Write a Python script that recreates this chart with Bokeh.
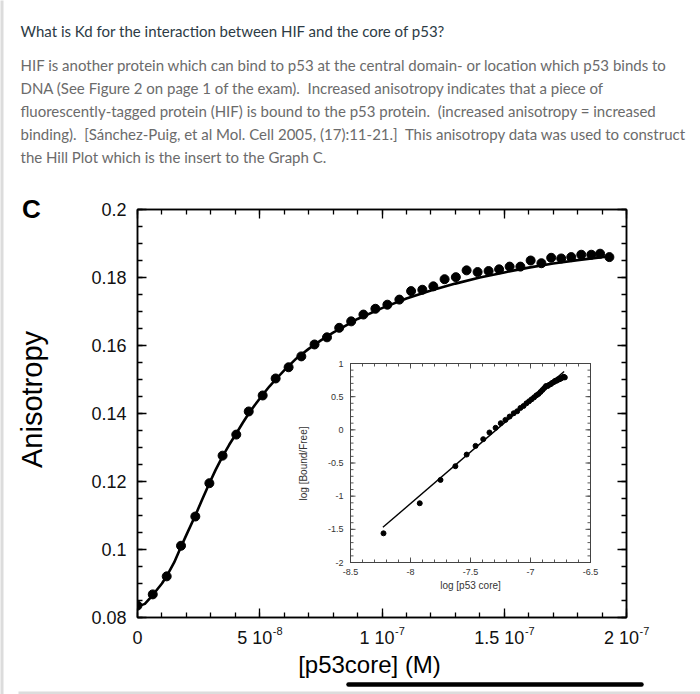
import numpy as np
from bokeh.plotting import figure
from bokeh.models import Range1d, LinearAxis, FixedTicker, CustomJSTickFormatter
from bokeh.core.properties import value
from bokeh.embed import file_html
from bokeh.resources import INLINE

# ---------------- data ----------------
# main titration: [p53core] in units of 1e-8 M, anisotropy
CONC_E8 = [0, 0.624, 1.195, 1.78, 2.365, 2.94, 3.48, 4.04, 4.55, 5.12, 5.65,
           6.18, 6.70, 7.24, 7.75, 8.25, 8.74, 9.24, 9.73, 10.22, 10.71, 11.19,
           11.65, 12.10, 12.56, 13.02, 13.46, 13.91, 14.36, 14.79, 15.22, 15.66,
           16.08, 16.52, 16.92, 17.33, 17.74, 18.15, 18.56, 18.92, 19.30]
ANISO = [0.0835, 0.0868, 0.0921, 0.1011, 0.1097, 0.1195, 0.1276, 0.1338, 0.1406,
         0.1453, 0.1503, 0.1536, 0.1568, 0.1603, 0.1624, 0.1652, 0.1671, 0.1691,
         0.1708, 0.1720, 0.1735, 0.1760, 0.1764, 0.1774, 0.1795, 0.1801, 0.1821,
         0.1816, 0.1819, 0.1824, 0.1832, 0.1832, 0.1850, 0.1842, 0.1858, 0.1856,
         0.1860, 0.1867, 0.1867, 0.1870, 0.1860]

# fitted curve
FIT_CONC_E8 = [0, 0.3, 0.624, 1.0, 1.195, 1.5, 1.78, 2.0, 2.365, 2.65, 2.94, 3.2,
               3.48, 3.75, 4.04, 4.3, 4.55, 4.8, 5.12, 5.4, 5.65, 6.0, 6.5, 7.0,
               7.5, 8.0, 8.5, 9.0, 10.0, 11.0, 12.0, 13.0, 14.0, 15.0, 16.0,
               17.0, 18.0, 19.0, 19.35]
FIT_ANISO = [0.0832, 0.0840, 0.0866, 0.0900, 0.0922, 0.0962, 0.1008, 0.1043,
             0.1100, 0.1148, 0.1195, 0.1235, 0.1274, 0.1308, 0.1341, 0.1372,
             0.1400, 0.1425, 0.1455, 0.1480, 0.1500, 0.1527, 0.1562, 0.1590,
             0.1615, 0.1638, 0.1658, 0.1678, 0.1710, 0.1738, 0.1762, 0.1782,
             0.1800, 0.1815, 0.1829, 0.1841, 0.1851, 0.1860, 0.1863]

# Hill plot (inset)
HILL_LOGX = [-8.225, -7.923, -7.75, -7.626, -7.532, -7.458, -7.394, -7.342,
             -7.291, -7.248, -7.209, -7.174, -7.140, -7.111, -7.084, -7.058,
             -7.034, -7.012, -6.991, -6.970, -6.951, -6.934, -6.917, -6.901,
             -6.885, -6.871, -6.857, -6.843, -6.830, -6.818, -6.805, -6.794,
             -6.782, -6.772, -6.761, -6.751, -6.741, -6.731, -6.723, -6.714]
HILL_LOGY = [-1.56, -1.107, -0.755, -0.548, -0.373, -0.242, -0.141, -0.04,
             0.03, 0.10, 0.15, 0.20, 0.25, 0.28, 0.33, 0.36, 0.40, 0.43, 0.46,
             0.49, 0.52, 0.54, 0.57, 0.60, 0.63, 0.66, 0.66, 0.68, 0.69, 0.71,
             0.72, 0.74, 0.74, 0.76, 0.76, 0.77, 0.78, 0.79, 0.80, 0.79]
HILL_FIT_LOGX = [-8.23, -6.72]
HILL_FIT_LOGY = [-1.47, 0.88]

# ticks and labels
X_TICKS_E8 = [0, 5, 10, 15, 20]
X_TICK_BASES = ["0", "5 10", "1 10", "1.5 10", "2 10"]
X_TICK_EXPS = ["", "-8", "-7", "-7", "-7"]
Y_TICKS = [0.08, 0.10, 0.12, 0.14, 0.16, 0.18, 0.20]
Y_TICK_LABELS = ["0.08", "0.1", "0.12", "0.14", "0.16", "0.18", "0.2"]
INSET_X_TICKS = [-8.5, -8.0, -7.5, -7.0, -6.5]
INSET_X_LABELS = ["-8.5", "-8", "-7.5", "-7", "-6.5"]
INSET_Y_TICKS = [-2.0, -1.5, -1.0, -0.5, 0.0, 0.5, 1.0]
INSET_Y_LABELS = ["-2", "-1.5", "-1", "-0.5", "0", "0.5", "1"]

NB = "\u00a0 "   # double space kept visible
TITLE = "What is Kd for the interaction between HIF and the core of p53?"
PARAGRAPH = [
    "HIF is another protein which can bind to p53 at the central domain- or location which p53 binds to",
    "DNA (See Figure 2 on page 1 of the exam)." + NB + "Increased anisotropy indicates that a piece of",
    "fluorescently-tagged protein (HIF) is bound to the p53 protein." + NB + "(increased anisotropy = increased",
    "binding)." + NB + "[S\u00e1nchez-Puig, et al Mol. Cell 2005, (17):11-21.]" + NB + "This anisotropy data was used to construct",
    "the Hill Plot which is the insert to the Graph C.",
]
PANEL_LETTER = "C"
Y_LABEL = "Anisotropy"
X_LABEL = "[p53core] (M)"
INSET_X_LABEL = "log [p53 core]"
INSET_Y_LABEL = "log [Bound/Free]"

# ---------------- layout (page pixels; figure sits at the page origin) ----------------
W, H = 700, 694
FL, FR, FT, FB = 137, 626, 209, 617          # main frame
BL, BR, BT, BB = FL, W - FR, FT, H - FB
IL, IR, IT, IB = 350, 590, 363, 562          # inset frame

AX_FONT = "Liberation Sans"
TXT_FONT = "Lato"
# Liberation Sans advance widths (em) for the tick-label characters
CW = {c: 0.556 for c in "0123456789"}
CW.update({" ": 0.278, ".": 0.278, "-": 0.333})


def text_w(s, size):
    return sum(CW[c] for c in s) * size


conc = [c * 1e-8 for c in CONC_E8]
fit_conc = [c * 1e-8 for c in FIT_CONC_E8]
x_ticks = [t * 1e-8 for t in X_TICKS_E8]

p = figure(width=W, height=H, x_range=Range1d(0, x_ticks[-1]),
           y_range=Range1d(Y_TICKS[0], Y_TICKS[-1]),
           output_backend="svg", toolbar_location=None,
           min_border_left=BL, min_border_right=BR,
           min_border_top=BT, min_border_bottom=BB)
p.xgrid.visible = False
p.ygrid.visible = False
p.outline_line_color = "black"
p.outline_line_width = 1.5
p.background_fill_color = "white"
p.border_fill_color = "white"

# helper ranges: page pixel coordinates and inset coordinates
kx = (IR - IL) / (INSET_X_TICKS[-1] - INSET_X_TICKS[0])
ky = (IB - IT) / (INSET_Y_TICKS[-1] - INSET_Y_TICKS[0])
p.extra_x_ranges = {
    "sx": Range1d(FL, FR),
    "ix": Range1d(INSET_X_TICKS[0] - (IL - FL) / kx,
                  INSET_X_TICKS[-1] + (FR - IR) / kx),
}
p.extra_y_ranges = {
    "sy": Range1d(FB, FT),
    "iy": Range1d(INSET_Y_TICKS[0] - (FB - IB) / ky,
                  INSET_Y_TICKS[-1] + (IT - FT) / ky),
}


def label_formatter(vals, labs):
    return CustomJSTickFormatter(args=dict(vals=vals, labs=labs), code="""
        let best = 0;
        for (let i = 0; i < vals.length; i++) {
            if (Math.abs(vals[i] - tick) < Math.abs(vals[best] - tick)) best = i;
        }
        return labs[best];
    """)


def style_axis(ax, show_labels):
    ax.axis_line_color = "black"
    ax.axis_line_width = 1.5
    ax.major_tick_in = 9
    ax.major_tick_out = 0
    ax.minor_tick_in = 5
    ax.minor_tick_out = 0
    ax.major_tick_line_width = 1.3
    ax.minor_tick_line_width = 1.3
    ax.major_tick_line_color = "black"
    ax.minor_tick_line_color = "black"
    ax.major_label_text_font = AX_FONT
    ax.major_label_text_font_size = "18px"
    ax.major_label_text_color = "#111111"
    if not show_labels:
        ax.formatter = CustomJSTickFormatter(code="return '';")


x_minor = list(np.arange(0, 21) * 1e-8)
y_minor = list(np.round(np.arange(0.08, 0.2001, 0.005), 4))
xticker = FixedTicker(ticks=x_ticks, minor_ticks=x_minor)
yticker = FixedTicker(ticks=Y_TICKS, minor_ticks=y_minor)

xa = p.xaxis[0]
xa.ticker = xticker
style_axis(xa, False)

ya = p.yaxis[0]
ya.ticker = yticker
ya.formatter = label_formatter(Y_TICKS, Y_TICK_LABELS)
style_axis(ya, True)
ya.major_label_standoff = 11

top = LinearAxis(ticker=xticker)
style_axis(top, False)
p.add_layout(top, "above")
right = LinearAxis(ticker=yticker)
style_axis(right, False)
p.add_layout(right, "right")


def over(r):
    """Draw a renderer on the overlay level so it is not clipped to the frame."""
    r.level = "overlay"
    return r


# x tick labels "a 10^b" with a raised exponent
BASE_SIZE, EXP_SIZE = 18, 11
for t, base, ex in zip(x_ticks, X_TICK_BASES, X_TICK_EXPS):
    bw = text_w(base, BASE_SIZE)
    ew = text_w(ex, EXP_SIZE)
    left = -(bw + ew) / 2
    over(p.text(x=[t], y=[637], text=[base], x_offset=left, y_range_name="sy",
                text_font=value(AX_FONT), text_font_size=f"{BASE_SIZE}px",
                text_color="#111111", text_align="left", text_baseline="middle"))
    if ex:
        over(p.text(x=[t], y=[630], text=[ex], x_offset=left + bw + 0.5,
                    y_range_name="sy", text_font=value(AX_FONT),
                    text_font_size=f"{EXP_SIZE}px", text_color="#111111",
                    text_align="left", text_baseline="middle"))

# main data
p.line(fit_conc, FIT_ANISO, line_color="black", line_width=2.6, line_join="round")
p.scatter(conc, ANISO, size=9, fill_color="black", line_color="black")

# ---------------- inset (Hill plot) ----------------
ix0, ix1 = INSET_X_TICKS[0], INSET_X_TICKS[-1]
iy0, iy1 = INSET_Y_TICKS[0], INSET_Y_TICKS[-1]
p.quad(left=[ix0], right=[ix1], bottom=[iy0], top=[iy1], fill_color="white",
       line_color="#444444", line_width=1, x_range_name="ix", y_range_name="iy")

MAJ, MIN = 5.0, 3.0
x_minor_i = list(np.round(np.arange(ix0, ix1 + 1e-9, 0.1), 3))
y_minor_i = list(np.round(np.arange(iy0, iy1 + 1e-9, 0.1), 3))
sx0, sx1, sy0, sy1 = [], [], [], []
for t, L in [(t, MAJ) for t in INSET_X_TICKS] + [(t, MIN) for t in x_minor_i]:
    sx0 += [t, t]; sx1 += [t, t]
    sy0 += [iy0, iy1]; sy1 += [iy0 + L / ky, iy1 - L / ky]
for t, L in [(t, MAJ) for t in INSET_Y_TICKS] + [(t, MIN) for t in y_minor_i]:
    sy0 += [t, t]; sy1 += [t, t]
    sx0 += [ix0, ix1]; sx1 += [ix0 + L / kx, ix1 - L / kx]
p.segment(sx0, sy0, sx1, sy1, line_color="#444444", line_width=0.9,
          x_range_name="ix", y_range_name="iy")

p.text(x=INSET_X_TICKS, y=[iy0] * len(INSET_X_TICKS), text=INSET_X_LABELS,
       y_offset=9, text_align="center", text_baseline="middle",
       text_font=value(AX_FONT), text_font_size="9px", text_color="#333333",
       x_range_name="ix", y_range_name="iy")
p.text(x=[ix0] * len(INSET_Y_TICKS), y=INSET_Y_TICKS, text=INSET_Y_LABELS,
       x_offset=-7, text_align="right", text_baseline="middle",
       text_font=value(AX_FONT), text_font_size="9px", text_color="#333333",
       x_range_name="ix", y_range_name="iy")

p.line(HILL_FIT_LOGX, HILL_FIT_LOGY, line_color="black", line_width=1.4,
       x_range_name="ix", y_range_name="iy")
p.scatter(HILL_LOGX, HILL_LOGY, size=5, fill_color="black", line_color="black",
          x_range_name="ix", y_range_name="iy")


# ---------------- texts (page pixel coordinates) ----------------
def page_text(x, y, text, font, size, color, align="left", angle=0.0, style="normal"):
    return over(p.text(x=[x], y=[y], text=[text], x_range_name="sx", y_range_name="sy",
                       text_font=value(font), text_font_size=size,
                       text_font_style=value(style), text_color=color,
                       text_align=align, text_baseline="middle", angle=angle))


page_text(20, 30, TITLE, TXT_FONT, "15px", "#2d3b45")
for i, line in enumerate(PARAGRAPH):
    page_text(20, 64 + 23 * i, line, TXT_FONT, "15px", "#6b6b6b")

page_text(31, 208, PANEL_LETTER, AX_FONT, "26px", "black", "center", style="bold")
page_text(31, 399, Y_LABEL, AX_FONT, "29px", "black", "center", angle=np.pi / 2)
page_text(369, 664, X_LABEL, AX_FONT, "24px", "black", "center")
page_text(470, 585, INSET_X_LABEL, AX_FONT, "10px", "#333333", "center")
page_text(303, 463, INSET_Y_LABEL, AX_FONT, "10px", "#333333", "center", angle=np.pi / 2)

# underline below the x-axis title, and the page's grey rules
over(p.segment(x0=[348], y0=[684], x1=[641], y1=[684], line_color="black",
               line_width=4.5, line_cap="round", x_range_name="sx", y_range_name="sy"))
over(p.segment(x0=[1.5, 18], y0=[0, 692.5], x1=[1.5, 700], y1=[694, 692.5],
               line_color="#dcdcdc", line_width=3,
               x_range_name="sx", y_range_name="sy"))

open("out.html", "w").write(file_html(p, INLINE))
